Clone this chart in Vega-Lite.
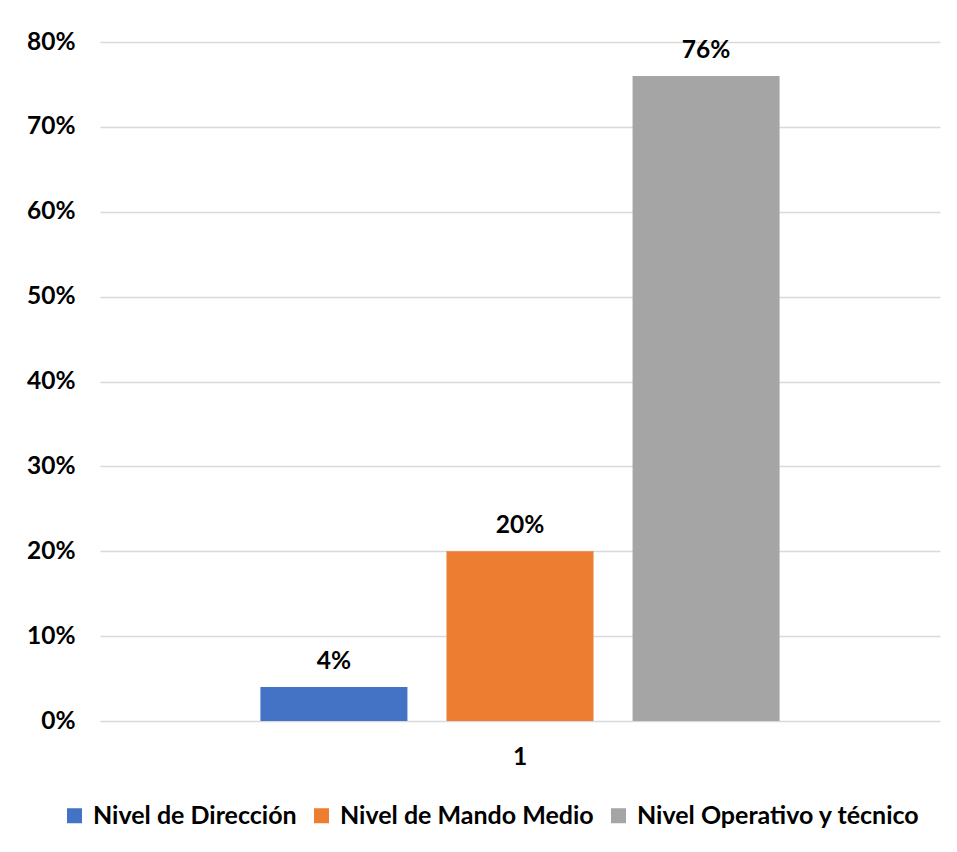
{
  "$schema": "https://vega.github.io/schema/vega-lite/v6.json",
  "width": 840,
  "height": 679,
  "autosize": {"type": "none"},
  "padding": {"left": 100, "top": 42, "right": 17, "bottom": 131},
  "background": "white",
  "config": {
    "view": {"stroke": null},
    "font": "Lato",
    "axis": {"labelFont": "Lato", "labelFontWeight": "bold", "labelColor": "#000000", "labelFontSize": 24.5}
  },
  "data": {
    "values": [
      {"grupo": "1", "nivel": "Nivel de Dirección", "valor": 0.04},
      {"grupo": "1", "nivel": "Nivel de Mando Medio", "valor": 0.20},
      {"grupo": "1", "nivel": "Nivel Operativo y técnico", "valor": 0.76}
    ]
  },
  "encoding": {
    "x": {
      "field": "grupo", "type": "nominal",
      "scale": {"paddingInner": 0, "paddingOuter": 0.309},
      "axis": {"title": null, "labelAngle": 0, "ticks": false, "domain": false, "labelPadding": 24, "labelBaseline": "top"}
    },
    "xOffset": {
      "field": "nivel", "type": "nominal",
      "sort": ["Nivel de Dirección", "Nivel de Mando Medio", "Nivel Operativo y técnico"],
      "scale": {"paddingInner": 0.21, "paddingOuter": 0}
    },
    "y": {
      "field": "valor", "type": "quantitative",
      "scale": {"domain": [0, 0.8], "nice": false},
      "axis": {"title": null, "format": ".0%", "values": [0, 0.1, 0.2, 0.3, 0.4, 0.5, 0.6, 0.7, 0.8], "ticks": false, "domain": false, "labelPadding": 25, "gridColor": "#d9d9d9", "gridWidth": 1.5}
    }
  },
  "layer": [
    {
      "mark": {"type": "bar"},
      "encoding": {
        "color": {
          "field": "nivel", "type": "nominal",
          "sort": ["Nivel de Dirección", "Nivel de Mando Medio", "Nivel Operativo y técnico"],
          "scale": {"range": ["#4472C4", "#ED7D31", "#A5A5A5"]},
          "legend": {
            "title": null, "orient": "none", "direction": "horizontal",
            "legendX": -38, "legendY": 761,
            "symbolType": "square", "symbolSize": 225, "symbolStrokeWidth": 0,
            "labelFont": "Lato", "labelFontWeight": "bold", "labelFontSize": 25, "labelColor": "#000000",
            "labelOffset": 6, "columnPadding": 12, "labelLimit": 400
          }
        }
      }
    },
    {
      "mark": {"type": "text", "baseline": "alphabetic", "dy": -18, "fontSize": 24.5, "fontWeight": "bold", "font": "Lato", "color": "#000000"},
      "encoding": {
        "text": {"field": "valor", "type": "quantitative", "format": ".0%"}
      }
    }
  ]
}
